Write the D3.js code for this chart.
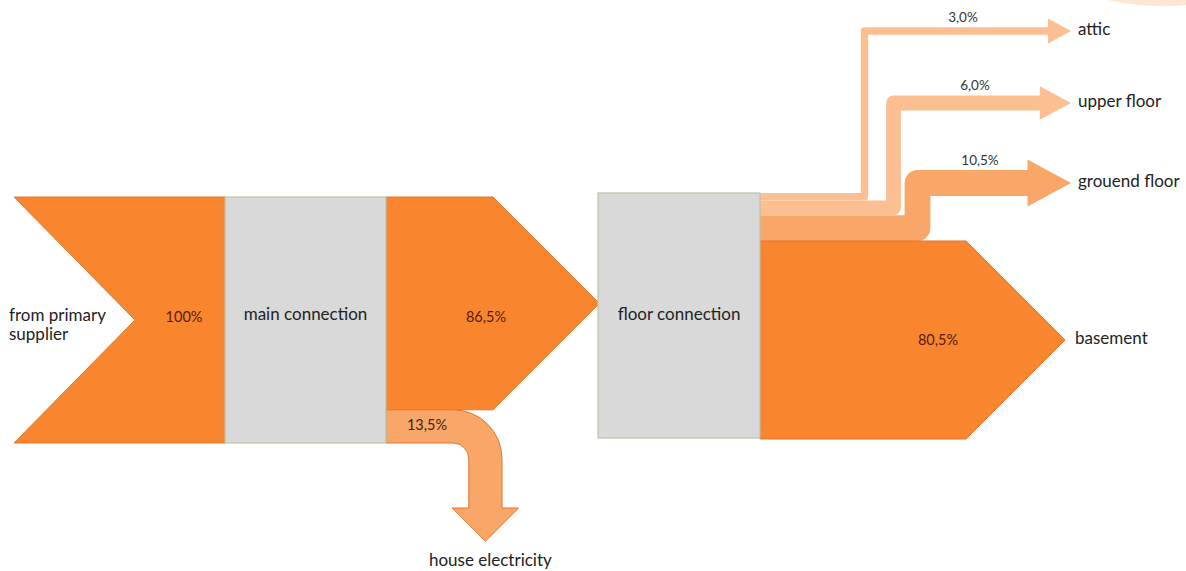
<!DOCTYPE html>
<html>
<head>
<meta charset="utf-8">
<script src="https://cdn.jsdelivr.net/npm/d3@7"></script>
<style>
  body { margin: 0; background: #fff; }
  #chart { width: 1186px; height: 571px; }
  text { font-family: Lato, "Open Sans", sans-serif; }
</style>
</head>
<body>
<div id="chart"></div>
<script>
/* DATA */
const sourceLabel = ["from primary", "supplier"];
const sourceValue = [100];
const nodeNames = ["main connection", "floor connection"];
const mainTargets = ["floor connection", "house electricity"];
const mainValues = [86.5, 13.5];
const floorTargets = ["attic", "upper floor", "grouend floor", "basement"];
const floorValues = [3.0, 6.0, 10.5, 80.5];

/* CANVAS */
const width = 1186, height = 571;
const svg = d3.select("#chart").append("svg")
  .attr("width", width).attr("height", height);

/* SCALE: band thickness for a share in % */
const band = d3.scaleLinear().domain([0, 100]).range([0, 246]);
const fmt = v => v === 100 ? "100%" : d3.format(".1f")(v).replace(".", ",") + "%";

/* COLOURS */
const orange = "#f9862f", orangeLine = "#e5752a";
const peach = "#f9a769", lightPeach = "#fbbf92";
const grey = "#d9d9d9", greyLine = "#bfc4a4";
const txt = "#222", pctTxt = "#571b05";
const labelSize = 17, pctSize = 14.5;

const poly = d3.line();

/* layout */
const x0 = 14, xMain0 = 225, xMain1 = 386, yMain = 197;
const xFloor0 = 598, xFloor1 = 760, yFloor = 193;

/* SOURCE CHEVRON */
const hSrc = band(sourceValue[0]);
svg.append("path")
  .attr("d", poly([[x0, yMain], [xMain0, yMain], [xMain0, yMain + hSrc], [x0, yMain + hSrc], [x0 + hSrc / 2 - 2, yMain + hSrc / 2]]) + "Z")
  .attr("fill", orange).attr("stroke", orangeLine).attr("stroke-width", 1);

/* MAIN -> FLOOR ARROW */
const hOut = band(mainValues[0]);
const xShaft = 493;
svg.append("path")
  .attr("d", poly([[xMain1, yMain], [xShaft, yMain], [xShaft + hOut / 2, yMain + hOut / 2], [xShaft, yMain + hOut], [xMain1, yMain + hOut]]) + "Z")
  .attr("fill", orange).attr("stroke", orangeLine).attr("stroke-width", 1);

/* HOUSE ELECTRICITY (curved down arrow) */
const tH = band(mainValues[1]);
const yTop = yMain + hOut, yBot = yTop + tH;
const rOut = 49, rIn = rOut - tH, cx = 453, cy = yTop + rOut;
const stemC = cx + rIn + tH / 2, headY = 508;
const he = d3.path();
he.moveTo(xMain1, yTop);
he.lineTo(cx, yTop);
he.arc(cx, cy, rOut, -Math.PI / 2, 0);
he.lineTo(cx + rOut, headY);
he.lineTo(stemC + tH, headY);
he.lineTo(stemC, headY + tH);
he.lineTo(stemC - tH, headY);
he.lineTo(cx + rIn, headY);
he.lineTo(cx + rIn, cy);
he.arc(cx, cy, rIn, 0, -Math.PI / 2, true);
he.lineTo(xMain1, yBot);
he.closePath();
svg.append("path").attr("d", he.toString())
  .attr("fill", peach).attr("stroke", orangeLine).attr("stroke-width", 1);

/* FLOOR OUTPUTS (attic, upper floor, ground floor) */
const stemX = [864.5, 893.5, 917.5];
const rowY = [31, 103, 183];
const pctX = [963, 975, 980];
const tipX = 1071;
const flowColors = [lightPeach, lightPeach, peach];
let cursor = yFloor;
const ups = floorTargets.slice(0, 3).map((name, i) => {
  const t = band(floorValues[i]);
  const yc = cursor + t / 2;
  cursor += t;
  return { name, value: floorValues[i], t, yc, sx: stemX[i], ry: rowY[i], px: pctX[i], color: flowColors[i] };
});

// draw ground floor first so lighter bands sit above
ups.slice().reverse().forEach(d => {
  const half = 0.6 * d.t + 8;
  const depth = 1.85 * half;
  const headX = tipX - depth;
  svg.append("path")
    .attr("d", poly([[xFloor1, d.yc], [d.sx, d.yc], [d.sx, d.ry], [headX + 1, d.ry]]))
    .attr("fill", "none").attr("stroke", d.color)
    .attr("stroke-width", d.t).attr("stroke-linejoin", "round");
  svg.append("path")
    .attr("d", poly([[headX, d.ry - half], [tipX, d.ry], [headX, d.ry + half]]) + "Z")
    .attr("fill", d.color);
  svg.append("text")
    .attr("x", d.px).attr("y", d.ry - d.t / 2 - 9)
    .attr("text-anchor", "middle").attr("dominant-baseline", "middle")
    .attr("font-size", 13.5).attr("fill", "#333")
    .text(fmt(d.value));
  svg.append("text")
    .attr("x", tipX + 7).attr("y", d.ry)
    .attr("dominant-baseline", "middle")
    .attr("font-size", labelSize).attr("fill", txt)
    .text(d.name);
});

/* BASEMENT ARROW */
const hB = band(floorValues[3]);
const yB = cursor, xBShaft = 966;
svg.append("path")
  .attr("d", poly([[xFloor1, yB], [xBShaft, yB], [xBShaft + hB / 2, yB + hB / 2], [xBShaft, yB + hB], [xFloor1, yB + hB]]) + "Z")
  .attr("fill", orange).attr("stroke", orangeLine).attr("stroke-width", 1);

/* NODE BOXES */
svg.append("rect")
  .attr("x", xMain0).attr("y", yMain).attr("width", xMain1 - xMain0).attr("height", hSrc)
  .attr("fill", grey).attr("stroke", greyLine).attr("stroke-width", 1.2);
svg.append("rect")
  .attr("x", xFloor0).attr("y", yFloor).attr("width", xFloor1 - xFloor0).attr("height", band(100) - 1)
  .attr("fill", grey).attr("stroke", greyLine).attr("stroke-width", 1.2);

/* LABELS */
svg.append("text").attr("x", (xMain0 + xMain1) / 2).attr("y", 316)
  .attr("text-anchor", "middle").attr("dominant-baseline", "middle")
  .attr("font-size", labelSize).attr("fill", txt).text(nodeNames[0]);
svg.append("text").attr("x", (xFloor0 + xFloor1) / 2).attr("y", 316)
  .attr("text-anchor", "middle").attr("dominant-baseline", "middle")
  .attr("font-size", labelSize).attr("fill", txt).text(nodeNames[1]);

svg.append("text").attr("x", 9).attr("y", 317)
  .attr("font-size", labelSize).attr("fill", txt)
  .attr("dominant-baseline", "middle")
  .selectAll("tspan").data(sourceLabel).enter().append("tspan")
  .attr("x", 9).attr("dy", (d, i) => i === 0 ? 0 : 19).text(d => d);

const pctLabels = [
  { v: sourceValue[0], x: 184, y: 318, c: pctTxt },
  { v: mainValues[0], x: 486, y: 318, c: pctTxt },
  { v: mainValues[1], x: 427, y: (yTop + yBot) / 2, c: "#3b2515" },
  { v: floorValues[3], x: 938, y: yB + hB / 2 + 1, c: pctTxt }
];
svg.selectAll(".pct").data(pctLabels).enter().append("text")
  .attr("class", "pct")
  .attr("x", d => d.x).attr("y", d => d.y)
  .attr("text-anchor", "middle").attr("dominant-baseline", "middle")
  .attr("font-size", pctSize).attr("fill", d => d.c)
  .text(d => fmt(d.v));

svg.append("text").attr("x", stemC + 5).attr("y", 562)
  .attr("text-anchor", "middle").attr("dominant-baseline", "middle")
  .attr("font-size", labelSize).attr("fill", txt).text(mainTargets[1]);

svg.append("text").attr("x", xBShaft + hB / 2 + 10).attr("y", yB + hB / 2)
  .attr("dominant-baseline", "middle")
  .attr("font-size", labelSize).attr("fill", txt).text(floorTargets[3]);

/* faint swoosh top right */
svg.append("path")
  .attr("d", "M1108,0 Q1150,9 1186,5 L1186,0 Z")
  .attr("fill", "#fbd6b8").attr("opacity", 0.6);
</script>
</body>
</html>
